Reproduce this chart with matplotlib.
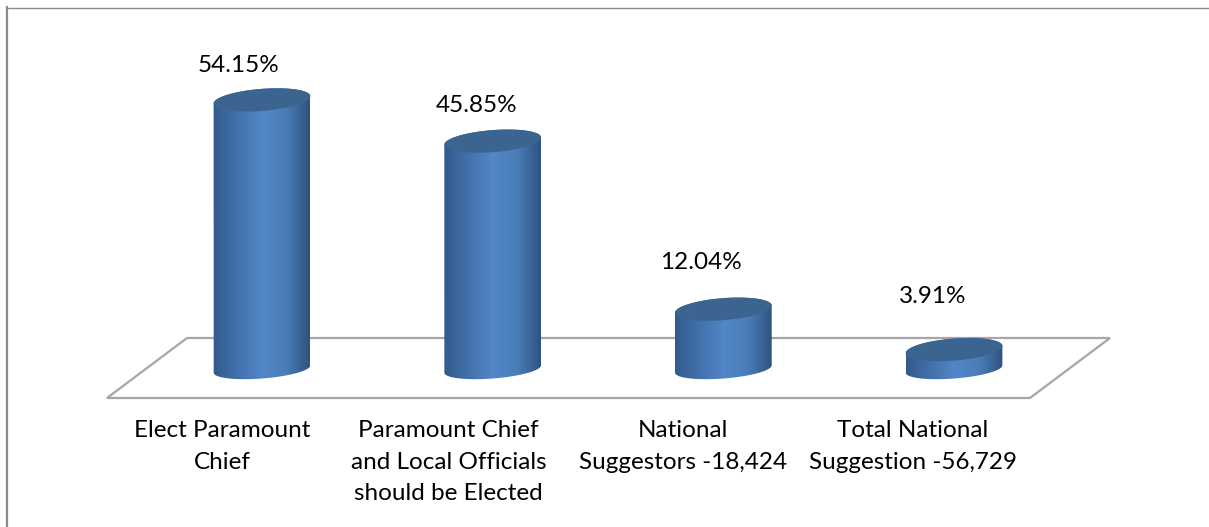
import numpy as np
import matplotlib
matplotlib.use('Agg')
import matplotlib.pyplot as plt
from matplotlib.colors import LinearSegmentedColormap
from matplotlib.patches import PathPatch, Polygon
from matplotlib.path import Path

# values
categories = ['Elect Paramount\nChief',
              'Paramount Chief\nand Local Officials\nshould be Elected',
              'National\nSuggestors -18,424',
              'Total National\nSuggestion -56,729']
values = [54.15, 45.85, 12.04, 3.91]
value_labels = ['54.15%', '45.85%', '12.04%', '3.91%']

# hand placed labels, px relative to the bar
label_dx = [-23, -16, -22, -21]
label_dy = [34, 36, 47, 53]
cat_dx = [-40, -44, -40, -41]

W, H = 1209, 527
plt.rcParams['font.family'] = ['Lato', 'DejaVu Sans']

fig = plt.figure(figsize=(W / 100, H / 100), dpi=100)
ax = fig.add_axes([0, 0, 1, 1])

# one category is 230.67 px wide, one percent is 4.97 px high
x_unit = 230.67
y_unit = 4.97
xlim = (-262 / x_unit, (W - 262) / x_unit)
ylim = (-(H - 369) / y_unit, 369 / y_unit)
ax.axis('off')

# floor of the 3d chart
floor = Polygon([(-155 / x_unit, -29 / y_unit), (768 / x_unit, -29 / y_unit),
                 (848 / x_unit, 31 / y_unit), (-75 / x_unit, 31 / y_unit)],
                closed=True, facecolor='white', edgecolor='#a6a6a6', lw=1.6, zorder=1)
ax.add_patch(floor)

bar_cmap = LinearSegmentedColormap.from_list(
    'cyl', [(0, '#32598a'), (0.12, '#3a659c'), (0.5, '#5286c8'), (0.75, '#4b7db9'), (0.9, '#3a6496'), (1, '#2f527f')])


def ellipse(cx, cy, b):
    # tilted ellipse for the cylinder ends, sizes in px
    t = np.linspace(0, 2 * np.pi, 120)
    a, ang = 48.5, np.radians(4.5)
    px = a * np.cos(t) * np.cos(ang) - b * np.sin(t) * np.sin(ang)
    py = a * np.cos(t) * np.sin(ang) + b * np.sin(t) * np.cos(ang)
    return cx + px / x_unit, cy + py / y_unit


grad = np.linspace(0, 1, 256).reshape(1, -1)
half = 48.5 / x_unit

for i, v in enumerate(values):
    bx, by = ellipse(i, 0, 9.5)
    tx, ty = ellipse(i, v, 11)
    # outline = lower half of bottom ellipse + upper half of top ellipse
    xs = np.concatenate([bx[60:120], tx[:60]])
    ys = np.concatenate([by[60:120], ty[:60]])
    body = PathPatch(Path(np.column_stack([xs, ys])), facecolor='none', edgecolor='none', transform=ax.transData)
    ax.add_patch(body)
    im = ax.imshow(grad, cmap=bar_cmap, aspect='auto', zorder=2,
                   extent=[i - half, i + half, -10, v + 10])
    im.set_clip_path(body)
    ax.fill(tx, ty, color='#3b6491', lw=0, zorder=3)
    ax.text(i + label_dx[i] / x_unit, v + label_dy[i] / y_unit, value_labels[i], ha='center', va='center',
            fontsize=17.5, color='black', zorder=4)
    ax.text(i + cat_dx[i] / x_unit, -(420 - 369) / y_unit, categories[i], ha='center', va='top',
            fontsize=17.5, color='black', linespacing=1.62, zorder=4)

# imshow resets the limits
ax.set_xlim(xlim)
ax.set_ylim(ylim)

# chart frame
fig.add_artist(plt.Line2D([6.5 / W, 6.5 / W], [0, 1 - 7 / H], color='#8c8c8c', lw=1.6))
fig.add_artist(plt.Line2D([6.5 / W, 1], [1 - 7.5 / H, 1 - 7.5 / H], color='#8c8c8c', lw=1))

fig.savefig('out.png', dpi=100)
